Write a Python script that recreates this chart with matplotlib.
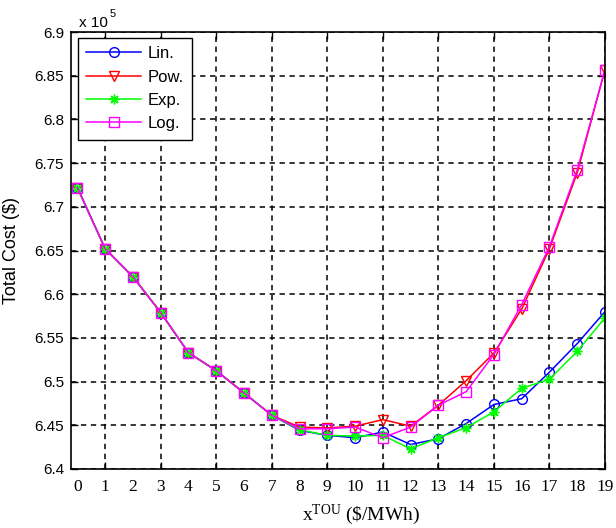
import matplotlib
matplotlib.use("Agg")
import matplotlib.pyplot as plt
import numpy as np

# ---- data (Total cost in units of 1e5 $) ----
x_tou = list(range(20))
tick_labels = [str(v) for v in x_tou]
common = [6.722, 6.652, 6.620, 6.579, 6.533, 6.5125, 6.487, 6.4615]
lin = common + [6.4442, 6.4385, 6.4358, 6.4423, 6.428, 6.4346, 6.452, 6.4738, 6.4804, 6.5108, 6.5435, 6.580]
pow_ = common + [6.448, 6.447, 6.449, 6.4565, 6.449, 6.473, 6.501, 6.5327, 6.583, 6.652, 6.739, 6.857]
exp_ = common + [6.445, 6.4385, 6.4377, 6.4385, 6.423, 6.4358, 6.4473, 6.4654, 6.4923, 6.5027, 6.5346, 6.573]
log_ = common + [6.446, 6.446, 6.448, 6.4358, 6.448, 6.473, 6.4885, 6.531, 6.588, 6.6545, 6.742, 6.857]
series_names = ["Lin.", "Pow.", "Exp.", "Log."]
yticks = [6.4, 6.45, 6.5, 6.55, 6.6, 6.65, 6.7, 6.75, 6.8, 6.85, 6.9]
ytick_labels = ["6.4", "6.45", "6.5", "6.55", "6.6", "6.65", "6.7", "6.75", "6.8", "6.85", "6.9"]
grid_x = [1, 3, 5, 7, 9, 11, 13, 15, 17, 19]

plt.rcParams["mathtext.fontset"] = "custom"
plt.rcParams["mathtext.rm"] = "Liberation Serif"
plt.rcParams["mathtext.it"] = "Liberation Serif:italic"

W, H = 616, 528
fig = plt.figure(figsize=(W / 100, H / 100), dpi=100)
L, R, T, B = 71, 605, 32, 469
ax = fig.add_axes([L / W, 1 - B / H, (R - L) / W, (B - T) / H])

styles = [
    dict(color=(0, 0, 1), marker="o", mfc="none"),
    dict(color=(1, 0, 0), marker="v", mfc="none"),
    dict(color=(0, 1, 0), marker=(8, 2, 0)),
    dict(color=(1, 0, 1), marker="s", mfc="none"),
]
for name, data, st in zip(series_names, [lin, pow_, exp_, log_], styles):
    ax.plot(x_tou, data, label=name, lw=1.1, ms=7, mew=1.0, **st)

ax.set_xlim(-0.23, 19)
ax.set_ylim(6.4, 6.9)

# x tick labels at every integer (no tick marks), grid + ticks at odd positions
ax.xaxis.remove_overlapping_locs = False
ax.set_xticks(x_tou)
ax.set_xticklabels(tick_labels, family="Liberation Serif", fontsize=12.5)
ax.tick_params(axis="x", which="major", length=0, pad=7)
ax.set_xticks(grid_x, minor=True)
ax.tick_params(axis="x", which="minor", direction="in", length=5, width=1, top=True, bottom=True)

ax.set_yticks(yticks)
ax.set_yticklabels(ytick_labels, family="Liberation Sans", fontsize=11)
ax.tick_params(axis="y", which="major", direction="in", length=5, width=1, left=True, right=True, pad=5)

ax.xaxis.grid(False, which="major")
ax.xaxis.grid(True, which="minor", color="black", linestyle=(0, (3.5, 3)), linewidth=1.1)
ax.yaxis.grid(True, which="major", color="black", linestyle=(0, (3.5, 3)), linewidth=1.1)
ax.set_axisbelow(True)

for s in ax.spines.values():
    s.set_linewidth(1.2)
    s.set_color("black")

ax.set_ylabel("Total Cost ($)", family="Liberation Sans", fontsize=13)
ax.yaxis.set_label_coords((20 - L) / (R - L), 0.5)
ax.set_xlabel(r"x$^{\mathrm{TOU}}$ (\$/MWh)", family="Liberation Serif", fontsize=14)
ax.xaxis.set_label_coords((361 - L) / (R - L), (B - 515) / (B - T))
ax.xaxis.label.set_va("center")

fig.text(79 / W, 1 - 27 / H, "x 10", family="Liberation Sans", fontsize=11, va="baseline", ha="left")
fig.text(110 / W, 1 - 17 / H, "5", family="Liberation Sans", fontsize=8, va="baseline", ha="left")

leg = ax.legend(loc="upper left", bbox_to_anchor=(78 / W, 1 - 38 / H), bbox_transform=fig.transFigure,
                borderaxespad=0, prop={"family": "Liberation Sans", "size": 12},
                handlelength=3.3, handletextpad=0.4, labelspacing=0.5, borderpad=0.5,
                fancybox=False, framealpha=1, edgecolor="black")
leg.get_frame().set_linewidth(1.0)

fig.savefig("out.png", dpi=100)
